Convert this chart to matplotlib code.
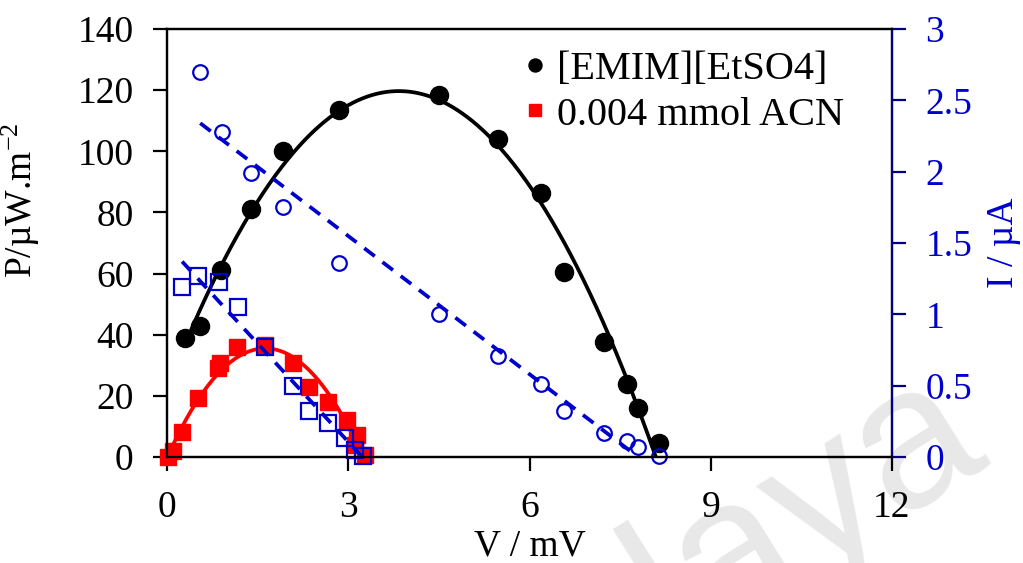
import matplotlib
matplotlib.use('Agg')
import matplotlib.pyplot as plt
import numpy as np

plt.rcParams['font.family'] = ['Liberation Serif', 'DejaVu Serif']
plt.rcParams['mathtext.fontset'] = 'custom'
plt.rcParams['mathtext.rm'] = 'Liberation Serif'
plt.rcParams['mathtext.default'] = 'regular'
plt.rcParams['lines.scale_dashes'] = False

# power density of the neat ionic liquid
v_il = [0.30, 0.55, 0.89, 1.39, 1.92, 2.85, 4.50, 5.48, 6.19, 6.57, 7.24, 7.62, 7.80, 8.15]
p_il = [38.9, 42.9, 61.2, 81.1, 100.1, 113.5, 118.4, 104.0, 86.4, 60.5, 37.6, 23.9, 16.0, 4.6]
# current of the neat ionic liquid
vi_il = [0.55, 0.91, 1.39, 1.92, 2.85, 4.50, 5.48, 6.19, 6.57, 7.24, 7.62, 7.80, 8.15]
i_il = [2.70, 2.28, 1.99, 1.75, 1.36, 1.00, 0.71, 0.51, 0.32, 0.17, 0.11, 0.07, 0.01]

# power density with acetonitrile added
v_acn = [0.02, 0.10, 0.25, 0.51, 0.84, 0.88, 1.16, 1.62, 2.09, 2.35, 2.67, 2.98, 3.11, 3.15, 3.28]
p_acn = [0.0, 2.0, 8.2, 19.3, 29.1, 30.7, 36.0, 36.6, 30.7, 22.9, 18.0, 12.1, 3.9, 7.2, 0.7]
# current with acetonitrile added
vi_acn = [0.25, 0.51, 0.86, 1.18, 1.62, 2.09, 2.35, 2.67, 2.95, 3.11, 3.25]
i_acn = [1.19, 1.27, 1.23, 1.05, 0.77, 0.50, 0.32, 0.24, 0.13, 0.05, 0.01]

blue = '#0000CD'
navy = '#00008B'

fig = plt.figure(figsize=(10.23, 5.63), dpi=100)

# faint watermark behind everything
fig.text(990/1023, 1-454/563, 'Malaya', fontsize=145, family='Liberation Sans',
         color='#e8e8e8', rotation=32, rotation_mode='anchor', ha='right',
         va='baseline', zorder=-5)

ax = fig.add_axes([167/1023, 1-457/563, 725/1023, 428/563])
ax2 = ax.twinx()
ax.patch.set_visible(False)
ax2.patch.set_visible(False)

# polynomial trendlines over the range of each data set
xs = np.linspace(min(v_il), max(v_il), 300)
ax.plot(xs, np.polyval(np.polyfit(v_il, p_il, 2), xs), color='black', lw=2.7, zorder=2)
xs = np.linspace(min(v_acn), max(v_acn), 300)
ax.plot(xs, np.polyval(np.polyfit(v_acn, p_acn, 2), xs), color='#FF0000', lw=2.7, zorder=2)

ax.plot(v_il, p_il, 'o', color='black', ms=13, label='[EMIM][EtSO4]', zorder=3,
        clip_on=False)
ax.plot(v_acn, p_acn, 's', color='#FF0000', ms=12, label='0.004 mmol ACN', zorder=3,
        clip_on=False)

# linear trendlines for the current
xs = np.linspace(min(vi_il), max(vi_il), 100)
ax2.plot(xs, np.polyval(np.polyfit(vi_il, i_il, 1), xs), color=blue, lw=2.7, dashes=[9.5, 7])
xs = np.linspace(min(vi_acn), max(vi_acn), 100)
ax2.plot(xs, np.polyval(np.polyfit(vi_acn, i_acn, 1), xs), color=blue, lw=2.7, dashes=[9.5, 7])

ax2.plot(vi_il, i_il, 'o', mfc='none', mec=blue, mew=1.6, ms=10.5, clip_on=False)
ax2.plot(vi_acn, i_acn, 's', mfc='none', mec=blue, mew=1.6, ms=12, clip_on=False)

ax.set_xlim(0, 12)
ax.set_ylim(0, 140)
ax2.set_ylim(0, 3)
ax.set_xticks([0, 3, 6, 9, 12])
ax.set_yticks(range(0, 141, 20))
ax2.set_yticks([0, 0.5, 1, 1.5, 2, 2.5, 3])
ax2.set_yticklabels(['0', '0.5', '1', '1.5', '2', '2.5', '3'])

for a in (ax, ax2):
    for s in a.spines.values():
        s.set_linewidth(1.6)
ax2.spines['right'].set_color(navy)
ax.tick_params(axis='both', direction='out', length=10, width=1.6, labelsize=27, pad=14)
ax2.tick_params(axis='y', direction='out', length=10, width=1.6, labelsize=27, pad=14,
                color=navy, labelcolor=blue)

ax.set_xlabel('V / mV', fontsize=27)
ax.set_ylabel('P/µW.m$^{-2}$', fontsize=27)
ax2.set_ylabel('I / µA', fontsize=27, color=blue)
ax.xaxis.set_label_coords(0.5, -0.168)
ax.yaxis.set_label_coords(-0.172, 0.6)
ax2.yaxis.set_label_coords(1.131, 0.5)

ax.legend(loc='upper right', bbox_to_anchor=(0.965, 1.0), frameon=False, fontsize=29,
          handlelength=0.5, handletextpad=0.3, labelspacing=0.2, markerscale=0.72,
          borderaxespad=0.15)

fig.savefig('out.png', dpi=100)
